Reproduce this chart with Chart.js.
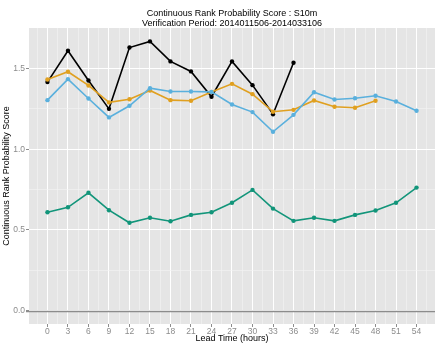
<!DOCTYPE html>
<html>
<head>
<meta charset="utf-8">
<script src="https://cdn.jsdelivr.net/npm/chart.js@4.4.1/dist/chart.umd.min.js"></script>
<style>
  html, body { margin: 0; padding: 0; background: #fff; }
  #wrap { width: 441px; height: 345px; }
</style>
</head>
<body>
<div id="wrap"><canvas id="crpsChart"></canvas></div>
<script>
const titleLines = ['Continuous Rank Probability Score : S10m', 'Verification Period: 2014011506-2014033106'];
const xTitle = 'Lead Time (hours)';
const yTitle = 'Continuous Rank Probability Score';

// lead times (hours) and tick labels
const leadTimes = [0, 3, 6, 9, 12, 15, 18, 21, 24, 27, 30, 33, 36, 39, 42, 45, 48, 51, 54];
const yTickValues = [0, 0.5, 1.0, 1.5];
const yMinorValues = [0.25, 0.75, 1.25];

// scores per series (shorter series stop earlier)
const blackScores = [1.416, 1.61, 1.426, 1.25, 1.63, 1.668, 1.544, 1.482, 1.325, 1.544, 1.397, 1.217, 1.536];
const orangeScores = [1.432, 1.48, 1.395, 1.29, 1.31, 1.364, 1.304, 1.30, 1.355, 1.405, 1.341, 1.232, 1.244, 1.302, 1.263, 1.257, 1.30];
const blueScores = [1.304, 1.434, 1.314, 1.197, 1.269, 1.378, 1.358, 1.358, 1.355, 1.277, 1.23, 1.108, 1.213, 1.353, 1.308, 1.316, 1.331, 1.296, 1.238];
const greenScores = [0.609, 0.640, 0.730, 0.622, 0.544, 0.575, 0.554, 0.593, 0.609, 0.668, 0.748, 0.632, 0.556, 0.575, 0.556, 0.593, 0.620, 0.668, 0.762];

function toPoints(scores) {
  return scores.map((v, i) => ({ x: leadTimes[i], y: v }));
}

function series(scores, color) {
  return {
    data: toPoints(scores),
    borderColor: color,
    backgroundColor: color,
    borderWidth: 1.6,
    pointRadius: 2.2,
    pointHoverRadius: 2.2,
    pointBorderWidth: 0,
    tension: 0
  };
}

// grey panel, zero line and the titles
const ggPanel = {
  id: 'ggPanel',
  beforeDraw(chart) {
    const { ctx, chartArea: a } = chart;
    ctx.save();
    ctx.fillStyle = '#E5E5E5';
    ctx.fillRect(a.left, a.top, a.right - a.left, a.bottom - a.top);
    ctx.restore();
  },
  beforeDatasetsDraw(chart) {
    const { ctx, chartArea: a, scales } = chart;
    const y0 = Math.round(scales.y.getPixelForValue(0)) + 0.5;
    ctx.save();
    ctx.strokeStyle = '#8C8C8C';
    ctx.lineWidth = 1.4;
    ctx.beginPath();
    ctx.moveTo(a.left - 3, y0);
    ctx.lineTo(a.right, y0);
    ctx.stroke();
    ctx.restore();
  },
  afterDraw(chart) {
    const { ctx, chartArea: a } = chart;
    const cx = (a.left + a.right) / 2;
    ctx.save();
    ctx.fillStyle = '#000';
    ctx.textAlign = 'center';
    ctx.textBaseline = 'middle';
    ctx.font = '9px "Liberation Sans", Arial, sans-serif';
    ctx.fillText(titleLines[0], cx, 14);
    ctx.fillText(titleLines[1], cx, 24);
    ctx.fillText(xTitle, cx, 339);
    ctx.translate(7, (a.top + a.bottom) / 2);
    ctx.rotate(-Math.PI / 2);
    ctx.fillText(yTitle, 0, 0);
    ctx.restore();
  }
};

const isMajorX = v => leadTimes.includes(v);
const isMajorY = v => yTickValues.some(t => Math.abs(t - v) < 1e-6);

new Chart(document.getElementById('crpsChart'), {
  type: 'line',
  data: {
    datasets: [
      series(greenScores, '#12957A'),
      series(blueScores, '#5AB0DD'),
      series(orangeScores, '#E0A020'),
      series(blackScores, '#000000')
    ]
  },
  options: {
    responsive: true,
    maintainAspectRatio: false,
    animation: false,
    layout: { padding: { top: 28, right: 6, left: 0, bottom: 0 } },
    plugins: {
      legend: { display: false },
      title: { display: false },
      tooltip: { enabled: false }
    },
    scales: {
      x: {
        type: 'linear',
        min: -2.7,
        max: 56.7,
        border: { display: false },
        afterBuildTicks(scale) {
          const ticks = [];
          for (let v = -1.5; v <= 55.5; v += 1.5) ticks.push({ value: v });
          scale.ticks = ticks;
        },
        afterFit(scale) { scale.height = 21; },
        grid: {
          color: c => isMajorX(c.tick.value) ? '#FFFFFF' : '#F4F4F4',
          lineWidth: c => isMajorX(c.tick.value) ? 1 : 0.6,
          tickColor: c => isMajorX(c.tick.value) ? '#8C8C8C' : 'rgba(0,0,0,0)',
          tickLength: 3
        },
        ticks: {
          autoSkip: false,
          maxRotation: 0,
          padding: 0,
          color: '#8C8C8C',
          font: { family: '"Liberation Sans", Arial, sans-serif', size: 8.5 },
          callback: v => isMajorX(v) ? String(v) : ''
        }
      },
      y: {
        type: 'linear',
        min: -0.083,
        max: 1.751,
        border: { display: false },
        afterBuildTicks(scale) {
          scale.ticks = yTickValues.concat(yMinorValues).sort((a, b) => a - b).map(v => ({ value: v }));
        },
        afterFit(scale) { scale.width = 29; },
        grid: {
          color: c => isMajorY(c.tick.value) ? '#FFFFFF' : '#F4F4F4',
          lineWidth: c => isMajorY(c.tick.value) ? 1 : 0.6,
          tickColor: c => isMajorY(c.tick.value) ? '#8C8C8C' : 'rgba(0,0,0,0)',
          tickLength: 3
        },
        ticks: {
          autoSkip: false,
          padding: 1,
          color: '#8C8C8C',
          font: { family: '"Liberation Sans", Arial, sans-serif', size: 8.5 },
          callback: v => isMajorY(v) ? v.toFixed(1) : ''
        }
      }
    }
  },
  plugins: [ggPanel]
});
</script>
</body>
</html>
